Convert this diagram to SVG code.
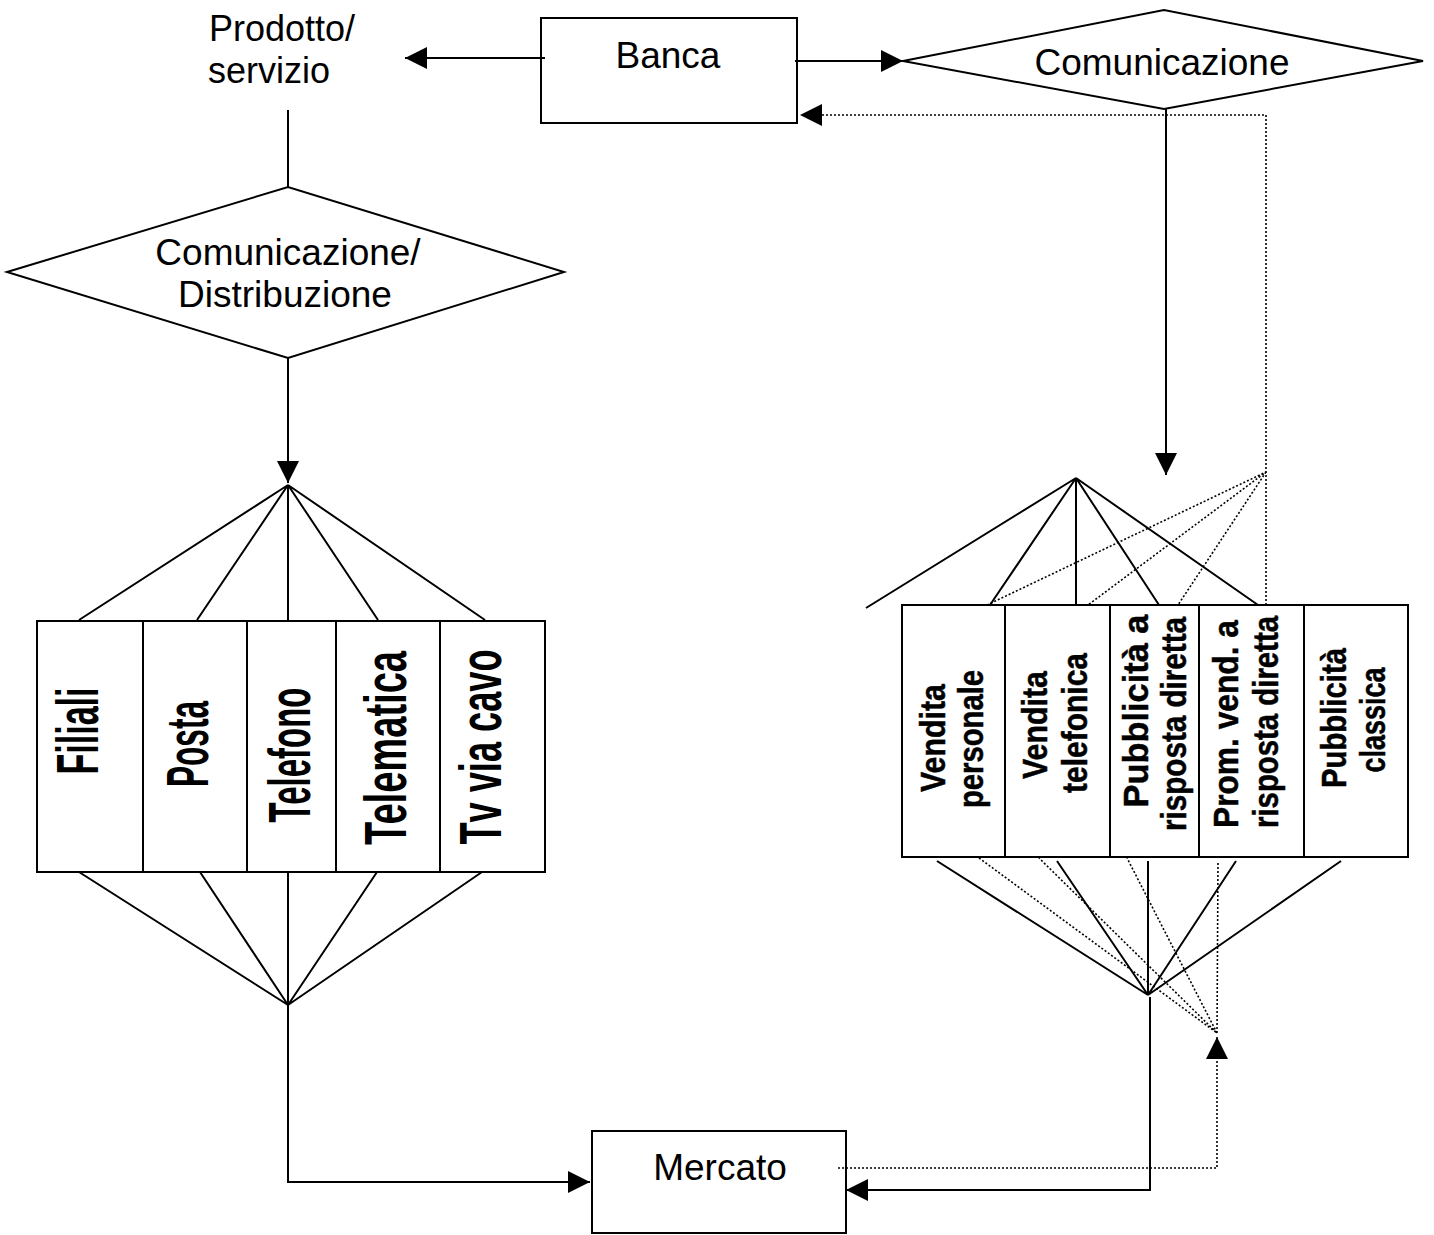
<svg xmlns="http://www.w3.org/2000/svg" width="1434" height="1235" viewBox="0 0 1434 1235">
<style>
.box{fill:none;stroke:#000;stroke-width:2}
.ln{fill:none;stroke:#000;stroke-width:2}
.dt{fill:none;stroke:#000;stroke-width:1.6;stroke-dasharray:2 2}
.lbl{font-family:"Liberation Sans",Arial,sans-serif;font-size:37px;fill:#000;text-anchor:middle}
.lbs{font-family:"Liberation Sans",Arial,sans-serif;font-size:36px;fill:#000;text-anchor:start}
.lv{font-family:"Liberation Sans",Arial,sans-serif;font-size:60px;font-weight:bold;fill:#000;text-anchor:middle}
.rv{font-family:"Liberation Sans",Arial,sans-serif;font-size:35px;font-weight:bold;fill:#000;stroke:#000;stroke-width:0.5;text-anchor:middle}
</style>
<defs>
<marker id="ah" markerUnits="userSpaceOnUse" markerWidth="22" markerHeight="22" refX="20" refY="10" orient="auto" viewBox="0 0 20 20">
<path d="M0,0 L20,10 L0,20 Z" fill="#000" stroke="none"/>
</marker>
</defs>
<rect width="1434" height="1235" fill="#fff"/>

<g id="prodotto">
<text class="lbs" x="209" y="41">Prodotto/</text>
<text class="lbs" x="208" y="83">servizio</text>
</g>
<g id="banca">
<rect class="box" x="541" y="18" width="256" height="105"/>
<text class="lbl" x="668" y="68">Banca</text>
</g>
<g id="comunicazione">
<polygon class="box" points="903,61 1164,10 1423,61 1164,109"/>
<text class="lbl" x="1162" y="75">Comunicazione</text>
</g>
<g id="comdist">
<polygon class="box" points="7,272 288,187 564,272 288,358"/>
<text class="lbl" x="288" y="265">Comunicazione/</text>
<text class="lbl" x="285" y="307">Distribuzione</text>
</g>

<g id="filiali"><rect class="box" x="37" y="621" width="106" height="251"/><text class="lv" transform="translate(98,731) rotate(-90)" textLength="87" lengthAdjust="spacingAndGlyphs">Filiali</text></g>
<g id="posta"><rect class="box" x="143" y="621" width="104" height="251"/><text class="lv" transform="translate(208,744) rotate(-90)" textLength="86" lengthAdjust="spacingAndGlyphs">Posta</text></g>
<g id="telefono"><rect class="box" x="247" y="621" width="89" height="251"/><text class="lv" transform="translate(310,755) rotate(-90)" textLength="135" lengthAdjust="spacingAndGlyphs">Telefono</text></g>
<g id="telematica"><rect class="box" x="336" y="621" width="104" height="251"/><text class="lv" transform="translate(406,748) rotate(-90)" textLength="194" lengthAdjust="spacingAndGlyphs">Telematica</text></g>
<g id="tv"><rect class="box" x="440" y="621" width="105" height="251"/><text class="lv" transform="translate(501,747) rotate(-90)" textLength="195" lengthAdjust="spacingAndGlyphs">Tv via cavo</text></g>

<g id="vendita-personale"><rect class="box" x="902" y="605" width="103" height="252"/>
<text class="rv" transform="translate(945,738) rotate(-90)" textLength="108" lengthAdjust="spacingAndGlyphs">Vendita</text>
<text class="rv" transform="translate(983,739) rotate(-90)" textLength="138" lengthAdjust="spacingAndGlyphs">personale</text></g>
<g id="vendita-telefonica"><rect class="box" x="1005" y="605" width="105" height="252"/>
<text class="rv" transform="translate(1047,725) rotate(-90)" textLength="108" lengthAdjust="spacingAndGlyphs">Vendita</text>
<text class="rv" transform="translate(1087,723) rotate(-90)" textLength="140" lengthAdjust="spacingAndGlyphs">telefonica</text></g>
<g id="pubblicita-risposta"><rect class="box" x="1110" y="605" width="89" height="252"/>
<text class="rv" transform="translate(1148,711) rotate(-90)" textLength="193" lengthAdjust="spacingAndGlyphs">Pubblicità a</text>
<text class="rv" transform="translate(1186,724) rotate(-90)" textLength="214" lengthAdjust="spacingAndGlyphs">risposta diretta</text></g>
<g id="prom-vend"><rect class="box" x="1199" y="605" width="105" height="252"/>
<text class="rv" transform="translate(1238,724) rotate(-90)" textLength="208" lengthAdjust="spacingAndGlyphs">Prom. vend. a</text>
<text class="rv" transform="translate(1278,722) rotate(-90)" textLength="212" lengthAdjust="spacingAndGlyphs">risposta diretta</text></g>
<g id="pubblicita-classica"><rect class="box" x="1304" y="605" width="104" height="252"/>
<text class="rv" transform="translate(1346,718) rotate(-90)" textLength="140" lengthAdjust="spacingAndGlyphs">Pubblicità</text>
<text class="rv" transform="translate(1385,720) rotate(-90)" textLength="105" lengthAdjust="spacingAndGlyphs">classica</text></g>

<g id="mercato">
<rect class="box" x="592" y="1131" width="254" height="102"/>
<text class="lbl" x="720" y="1180">Mercato</text>
</g>

<g id="connectors">
<line class="ln" x1="545" y1="58" x2="405" y2="58" marker-end="url(#ah)"/>
<line class="ln" x1="795" y1="61" x2="903" y2="61" marker-end="url(#ah)"/>
<path class="dt" d="M1266,605 L1266,115 L800,115" marker-end="url(#ah)"/>
<line class="ln" x1="1166" y1="109" x2="1166" y2="475" marker-end="url(#ah)"/>
<line class="ln" x1="288" y1="110" x2="288" y2="187"/>
<line class="ln" x1="288" y1="358" x2="288" y2="483" marker-end="url(#ah)"/>
<path class="ln" d="M79,620 L288,485 L197,620 M288,485 L288,620 M288,485 L378,620 M288,485 L485,620"/>
<path class="ln" d="M79,872 L288,1005 L200,872 M288,1005 L288,872 M288,1005 L377,872 M288,1005 L482,872"/>
<path class="ln" d="M288,1005 L288,1182 L590,1182" marker-end="url(#ah)"/>
<path class="ln" d="M866,608 L1076,478 L990,605 M1076,478 L1076,605 M1076,478 L1159,605 M1076,478 L1258,605"/>
<path class="dt" d="M987,605 L1266,472 L1088,605 M1266,472 L1178,605"/>
<path class="ln" d="M937,861 L1148,995 L1057,861 M1148,995 L1148,861 M1148,995 L1236,861 M1148,995 L1341,861"/>
<path class="ln" d="M1150,997 L1150,1190 L846,1190" marker-end="url(#ah)"/>
<path class="dt" d="M979,858 L1217,1033 L1039,858 M1217,1033 L1127,858 M1217,1033 L1218,862"/>
<path class="dt" d="M838,1168 L1217,1168 L1217,1037" marker-end="url(#ah)"/>
</g>
</svg>
